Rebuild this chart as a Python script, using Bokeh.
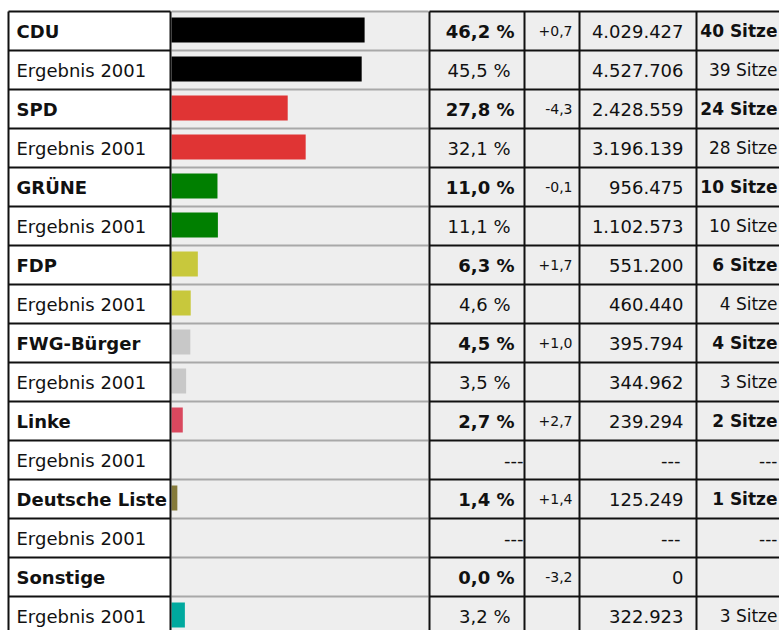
from bokeh.plotting import figure
from bokeh.models import Range1d, ColumnDataSource
from bokeh.core.properties import value
from bokeh.embed import file_html
from bokeh.resources import INLINE

# ---------------- data ----------------
parties = ["CDU", "SPD", "GRÜNE", "FDP", "FWG-Bürger", "Linke", "Deutsche Liste", "Sonstige"]
party_colors = ["#000000", "#e03434", "#007f00", "#c8c83c", "#c8c8c8", "#d9485e", "#857a3a", "#00a99e"]
pct_2006 = [46.2, 27.8, 11.0, 6.3, 4.5, 2.7, 1.4, 0.0]
pct_2001 = [45.5, 32.1, 11.1, 4.6, 3.5, None, None, 3.2]
diff_pct = [0.7, -4.3, -0.1, 1.7, 1.0, 2.7, 1.4, -3.2]
votes_2006 = [4029427, 2428559, 956475, 551200, 395794, 239294, 125249, 0]
votes_2001 = [4527706, 3196139, 1102573, 460440, 344962, None, None, 322923]
seats_2006 = [40, 24, 10, 6, 4, 2, 1, None]
seats_2001 = [39, 28, 10, 4, 3, None, None, 3]
prev_label = "Ergebnis 2001"

# ---------------- helpers ----------------
def fmt_pct(v):
    return "---" if v is None else f"{v:.1f}".replace(".", ",") + " %"

def fmt_diff(v):
    return f"{v:+.1f}".replace(".", ",")

def fmt_votes(v):
    return "---" if v is None else f"{v:,}".replace(",", ".")

def fmt_seats(v, missing):
    return missing if v is None else f"{v} Sitze"

# ---------------- layout ----------------
W, H = 779, 630
ROW_PX, TOP_PX = 39, 11
n_rows = 2 * len(parties)
y_top = -TOP_PX / ROW_PX
y_bot = (H - TOP_PX) / ROW_PX

BAR_LEFT_PX, PX_PER_PCT = 171, 4.18
FONT = value("DejaVu Sans")
TXT = "#111111"

p = figure(width=W, height=H, output_backend="svg", toolbar_location=None,
           x_range=Range1d(0, W), y_range=Range1d(y_bot, y_top),
           x_axis_location=None, y_axis_location=None,
           min_border=0, outline_line_color=None, background_fill_color="white",
           border_fill_color="white")
p.grid.visible = False
p.extra_x_ranges = {"pct": Range1d(-BAR_LEFT_PX / PX_PER_PCT, (W - BAR_LEFT_PX) / PX_PER_PCT)}

# grey cell background (all columns except the label column)
p.quad(left=[170], right=[W + 20], top=[0], bottom=[n_rows + 1], fill_color="#eeeeee", line_color=None)

# rows
cur_rows = [2 * i for i in range(len(parties))]
prev_rows = [2 * i + 1 for i in range(len(parties))]

# bars
bar_src = ColumnDataSource(dict(
    y=[r + 0.474 for r in cur_rows] + [r + 0.474 for r in prev_rows],
    right=pct_2006 + [v if v is not None else 0 for v in pct_2001],
    color=party_colors + party_colors,
))
p.hbar(y="y", left=0, right="right", height=0.64, fill_color="color", line_color=None,
       source=bar_src, x_range_name="pct")

# grid lines
bounds = list(range(n_rows + 2))
p.segment(x0=[8] * len(bounds), x1=[170] * len(bounds), y0=bounds, y1=bounds, line_color="#111111", line_width=2)
p.segment(x0=[171] * len(bounds), x1=[428] * len(bounds), y0=bounds, y1=bounds, line_color="#a8a8a8", line_width=2)
p.segment(x0=[429] * len(bounds), x1=[W + 20] * len(bounds), y0=bounds, y1=bounds, line_color="#111111", line_width=2)
vx = [8, 170, 429, 524, 579, 696]
p.segment(x0=vx, x1=vx, y0=[0] * len(vx), y1=[n_rows + 1] * len(vx), line_color="#111111", line_width=2)

BASE = 19.5 / ROW_PX

def add_text(xs, rows, texts, align, bold, size="18px"):
    src = ColumnDataSource(dict(x=xs, y=[r + BASE for r in rows], t=texts))
    p.text(x="x", y="y", text="t", source=src, text_font=FONT, text_font_size=size,
           text_font_style="bold" if bold else "normal", text_align=align,
           text_baseline="alphabetic", text_color=TXT)

# labels
add_text([16] * len(parties), cur_rows, parties, "left", True)
add_text([16] * len(parties), prev_rows, [prev_label] * len(parties), "left", False)

# percentages
add_text([514] * len(parties), cur_rows, [fmt_pct(v) for v in pct_2006], "right", True)
add_text([510 if v is not None else 523 for v in pct_2001], prev_rows,
         [fmt_pct(v) for v in pct_2001], "right", False)

# differences
add_text([572] * len(parties), cur_rows, [fmt_diff(v) for v in diff_pct], "right", False, "14px")

# votes
add_text([683] * len(parties), cur_rows, [fmt_votes(v) for v in votes_2006], "right", False)
add_text([683 if v is not None else 680 for v in votes_2001], prev_rows,
         [fmt_votes(v) for v in votes_2001], "right", False)

# seats
add_text([777] * len(parties), cur_rows, [fmt_seats(v, "") for v in seats_2006], "right", True, "17px")
add_text([777] * len(parties), prev_rows,
         [fmt_seats(v, "---") for v in seats_2001], "right", False, "17px")

open("out.html", "w").write(file_html(p, INLINE))
